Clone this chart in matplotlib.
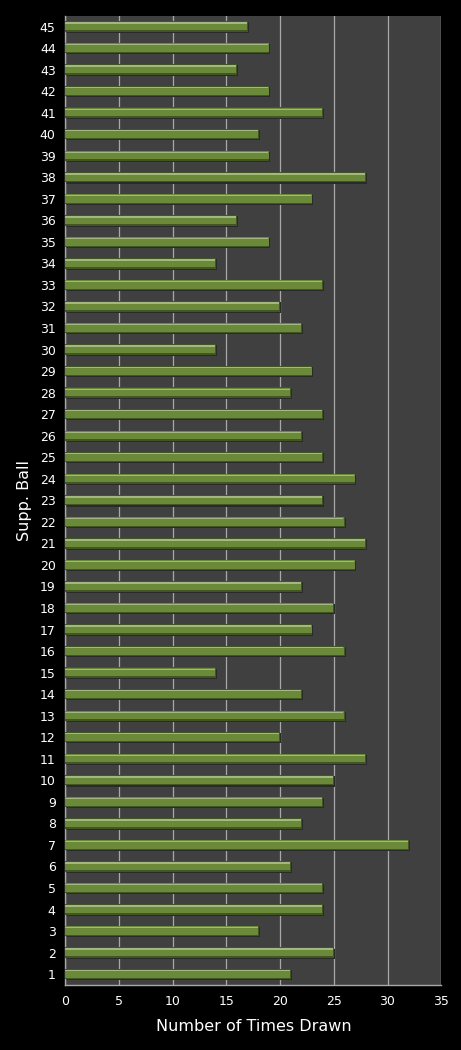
import numpy as np
import matplotlib
matplotlib.use("Agg")
import matplotlib.pyplot as plt

# Supp. ball draw counts, ball 1..45
balls = list(range(1, 46))
times_drawn = [21, 25, 18, 24, 24, 21, 32, 22, 24, 25,
               28, 20, 26, 22, 14, 26, 23, 25, 22, 27,
               28, 26, 24, 27, 24, 22, 24, 21, 23, 14,
               22, 20, 24, 14, 19, 16, 23, 28, 19, 18,
               24, 19, 16, 19, 17]
x_ticks = [0, 5, 10, 15, 20, 25, 30, 35]

fig = plt.figure(figsize=(4.61, 10.5), dpi=100, facecolor="black")
ax = fig.add_axes([0.142, 0.062, 0.815, 0.923])
ax.set_facecolor("#404040")

y = np.array(balls)
vals = np.array(times_drawn)
h = 0.48

# shadow, dark base, mid body and top highlight to fake the bevelled bars
ax.barh(y - 0.05, vals + 0.1, height=h, color="#2a2a2a", zorder=2)
ax.barh(y, vals, height=h, color="#415623", zorder=3)
ax.barh(y + 0.02, vals - 0.07, height=h * 0.8, color="#6a8a3a", zorder=4)
ax.barh(y + 0.16, vals - 0.1, height=h * 0.13, color="#a3b87e", zorder=5)

ax.set_xlim(0, 35)
ax.set_ylim(0.5, 45.5)
ax.set_xticks(x_ticks)
ax.set_yticks(balls)
ax.set_yticklabels([str(b) for b in balls])
ax.xaxis.grid(True, color="#a8a8a8", linewidth=0.9, zorder=1)
ax.set_axisbelow(True)

ax.tick_params(colors="white", labelsize=9, length=0, pad=7)
for s in ["top", "right"]:
    ax.spines[s].set_visible(False)
for s in ["left", "bottom"]:
    ax.spines[s].set_color("#a8a8a8")
    ax.spines[s].set_linewidth(1.0)

ax.set_xlabel("Number of Times Drawn", color="white", fontsize=11.5, labelpad=8)
ax.set_ylabel("Supp. Ball", color="white", fontsize=11.5, labelpad=6)

fig.savefig("out.png", dpi=100, facecolor="black")
